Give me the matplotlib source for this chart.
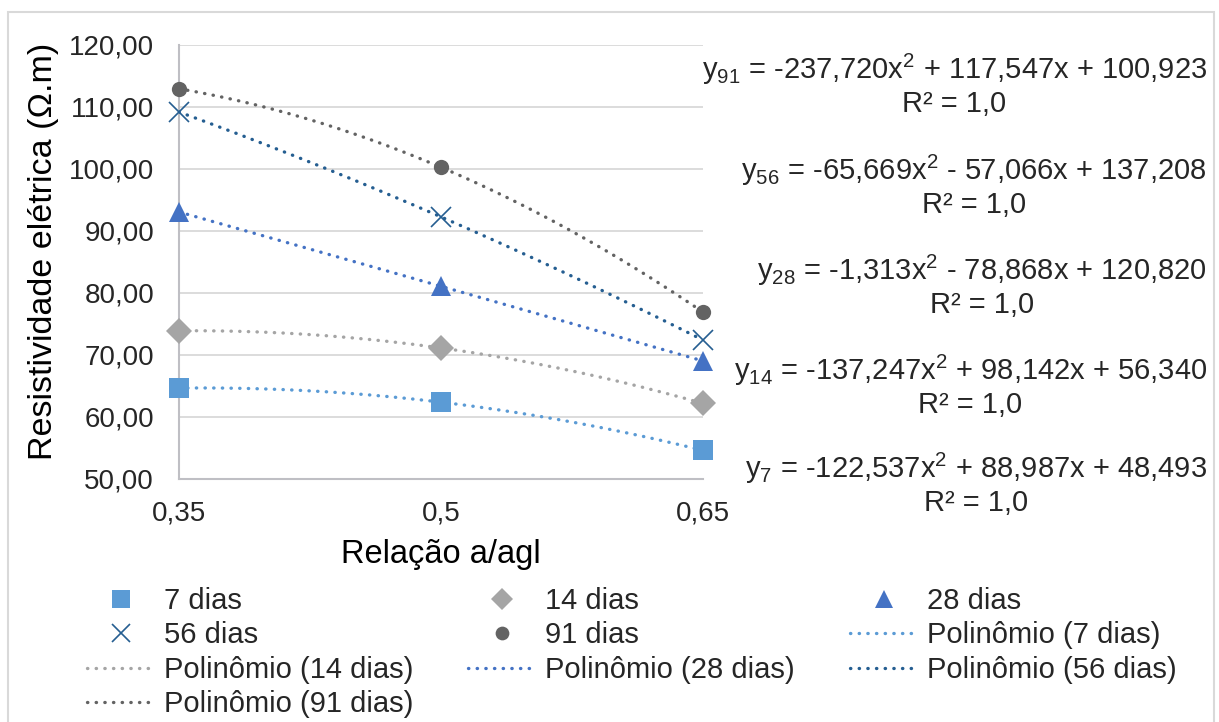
import matplotlib
matplotlib.use("Agg")
import matplotlib.pyplot as plt
from matplotlib.lines import Line2D
from matplotlib.patches import Rectangle
from matplotlib.ticker import FuncFormatter
import numpy as np

plt.rcParams.update({
    "font.family": "Liberation Sans",
    "font.size": 20,
    "mathtext.fontset": "custom",
    "mathtext.rm": "Liberation Sans",
    "mathtext.it": "Liberation Sans:italic",
    "text.color": "#262626",
})

# water/binder ratio and resistivity (ohm.m) per curing age
relacao = [0.35, 0.5, 0.65]
idades = ["7", "14", "28", "56", "91"]
res_7 = [64.63, 62.35, 54.56]
res_14 = [73.88, 71.10, 62.15]
res_28 = [93.06, 81.06, 69.00]
res_56 = [109.19, 92.26, 72.37]
res_91 = [112.94, 100.27, 76.89]

# 2nd order trendline coefficients (a, b, c) as reported
coef_7 = [-122.537, 88.987, 48.493]
coef_14 = [-137.247, 98.142, 56.340]
coef_28 = [-1.313, -78.868, 120.820]
coef_56 = [-65.669, -57.066, 137.208]
coef_91 = [-237.720, 117.547, 100.923]

x_ticks = ["0,35", "0,5", "0,65"]

series = [
    # values, coefs, color, marker, marker size
    (res_7, coef_7, "#5B9BD5", "s", 14.4),
    (res_14, coef_14, "#A5A5A5", "D", 12.9),
    (res_28, coef_28, "#4472C4", "^", 14.4),
    (res_56, coef_56, "#255E91", "x", 14.0),
    (res_91, coef_91, "#636363", "o", 11.0),
]

W, H = 1219, 722
fig = plt.figure(figsize=(W / 100, H / 100), dpi=100)

# plot area in pixels: x 179..703, y 45..479
ax = fig.add_axes([179 / W, 1 - 478.7 / H, (703 - 179) / W, (478.7 - 45) / H])

dot_style = dict(linestyle=(0, (0.1, 2.5)), dash_capstyle="round", linewidth=2.4)

xs = np.linspace(relacao[0], relacao[-1], 200)
point_handles = []
trend_handles = []
for (vals, coef, color, marker, ms), idade in zip(series, idades):
    ax.plot(xs, np.polyval(coef, xs), color=color, zorder=3, **dot_style)
    mew = 1.2 if marker == "x" else 0
    ax.plot(relacao, vals, linestyle="none", marker=marker, markersize=ms,
            color=color, markeredgewidth=mew, zorder=4, clip_on=False)
    point_handles.append(Line2D([], [], linestyle="none", marker=marker,
                                markersize=ms * 0.9, color=color,
                                markeredgewidth=mew, label=f"{idade} dias"))
    trend_handles.append(Line2D([], [], color=color, label=f"Polinômio ({idade} dias)",
                                **dot_style))

ax.set_xlim(relacao[0], relacao[-1])
ax.set_ylim(50, 120)
ax.set_yticks(np.arange(50, 121, 10))
ax.yaxis.set_major_formatter(FuncFormatter(lambda v, p: f"{v:.2f}".replace(".", ",")))
ax.set_xticks(relacao)
ax.set_xticklabels(x_ticks)

ax.grid(axis="y", color="#D9D9D9", linewidth=1.3)
ax.set_axisbelow(True)
for side in ["top", "right"]:
    ax.spines[side].set_visible(False)
for side in ["left", "bottom"]:
    ax.spines[side].set_color("#BFBFC4")
    ax.spines[side].set_linewidth(1.5)
ax.tick_params(length=0, colors="#262626", labelsize=20)
ax.tick_params(axis="y", pad=18)
ax.tick_params(axis="x", pad=16)

ax.set_ylabel("Resistividade elétrica (Ω.m)", fontsize=24.5, va="center")
ax.yaxis.set_label_coords((44 - 179) / 524, 0.525)
ax.set_xlabel("Relação a/agl", fontsize=23.5, va="center")
ax.xaxis.set_label_coords(0.5, -(554 - 478.7) / 433.7)


def fmt(v):
    return f"{abs(v):.3f}".replace(".", ",")


# trendline equations, right side
eq_y = {"91": 85, "56": 186, "28": 286, "14": 386, "7": 484}
for (vals, coef, color, marker, ms), idade in zip(series, idades):
    a, b, c = coef
    sb = "+" if b >= 0 else "-"
    sc = "+" if c >= 0 else "-"
    eq = (f"y$\\mathregular{{_{{{idade}}}}}$ = {'-' if a < 0 else ''}{fmt(a)}x$\\mathregular{{^2}}$ "
          f"{sb} {fmt(b)}x {sc} {fmt(c)}\nR² = 1,0")
    fig.text(1207 / W, 1 - eq_y[idade] / H, eq, ha="right", va="center",
             multialignment="center", fontsize=21, linespacing=1.12)

# legend in Excel row order, filled column by column
order = [point_handles[0], point_handles[3], trend_handles[1], trend_handles[4],
         point_handles[1], point_handles[4], trend_handles[2],
         point_handles[2], trend_handles[0], trend_handles[3]]
fig.legend(handles=order, ncol=3, loc="upper left",
           bbox_to_anchor=(87 / W, 1 - 587 / H), bbox_transform=fig.transFigure,
           frameon=False, borderpad=0, borderaxespad=0, fontsize=21,
           handlelength=2.33, handletextpad=0.31, columnspacing=1.88,
           labelspacing=0.22, numpoints=1)

# chart border
fig.add_artist(Rectangle((8 / W, -0.05), (1214 - 8) / W, 1.05 - 12 / H,
                         transform=fig.transFigure, fill=False,
                         edgecolor="#D9D9D9", linewidth=1.5))

fig.savefig("out.png", dpi=100)
